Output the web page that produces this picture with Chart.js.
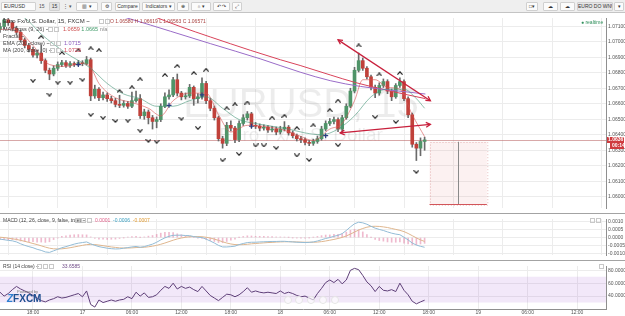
<!DOCTYPE html>
<html>
<head>
<meta charset="utf-8">
<title>EURUSD, 15</title>
<script src="https://cdn.jsdelivr.net/npm/chart.js@4.4.1/dist/chart.umd.min.js"></script>
<style>
  html, body { margin: 0; padding: 0; background: #fff; }
  body { position: relative; width: 625px; height: 316px; overflow: hidden; font-family: Arial, "Liberation Sans", sans-serif; color: #333; }
  canvas { position: absolute; left: 0; }
  .abs { position: absolute; white-space: nowrap; }
  #toolbar { left: 0; top: 0; width: 625px; height: 12px; background: #efefef; border-bottom: 1px solid #c4c4c4; }
  .btn { position: absolute; top: 2px; height: 9px; box-sizing: border-box; border: 1px solid #d0d0d0; border-radius: 1px; background: #fbfbfb; font-size: 5px; line-height: 7px; text-align: center; color: #333; white-space: nowrap; overflow: hidden; }
  .ico { position: absolute; top: 3px; font-size: 5px; line-height: 6px; color: #555; }
  .sep { position: absolute; left: 0; width: 625px; height: 1px; background: #a3a3a3; }
  .lg { position: absolute; left: 3px; font-size: 5.5px; line-height: 6px; color: #444; white-space: nowrap; }
  .sq { display: inline-block; width: 3px; height: 3px; border: 1px solid #c8c8c8; margin-right: 1px; vertical-align: middle; }
  .nav { position: absolute; top: 296px; width: 8px; height: 8px; border-radius: 50%; border: 1px solid #e4e4e4; box-sizing: border-box; background: rgba(255,255,255,0.6); }
</style>
</head>
<body>

<div id="toolbar" class="abs">
  <div class="btn" style="left:1px;width:35px;text-align:left;padding-left:2px;">EURUSD</div>
  <div class="ico" style="left:39px;">15</div>
  <div class="btn" style="left:49px;width:11px;background:#e3e3e3;">15</div>
  <div class="ico" style="left:63px;">⋮ ▾</div>
  <div class="btn" style="left:76px;width:22px;">▥ ▾</div>
  <div class="btn" style="left:101px;width:11px;">⚙</div>
  <div class="btn" style="left:115px;width:25px;">Compare</div>
  <div class="btn" style="left:142px;width:33px;">Indicators ▾</div>
  <div class="btn" style="left:177px;width:12px;">⊕</div>
  <div class="btn" style="left:191px;width:20px;">☼ ▾</div>
  <div class="btn" style="left:213px;width:17px;">↶ ↷</div>
  <div class="btn" style="left:232px;width:10px;">⤢</div>
  <div class="btn" style="left:526px;width:12px;">□▾</div>
  <div class="btn" style="left:543px;width:15px;">☁</div>
  <div class="btn" style="left:560px;width:15px;">☁</div>
  <div class="btn" style="left:577px;width:36px;background:#e6e6e6;">EURO DO WNWR</div>
  <div class="btn" style="left:614px;width:10px;">▾</div>
</div>

<canvas id="mainChart" width="625" height="200" style="top:13px;"></canvas>
<canvas id="macdChart" width="625" height="46" style="top:214px;"></canvas>
<canvas id="rsiChart" width="625" height="55" style="top:261px;"></canvas>

<div class="sep" style="top:213px;"></div>
<div class="sep" style="top:260px;"></div>

<!-- legends -->
<div class="lg" style="top:18px;font-size:6px;color:#333;">Euro Fx/U.S. Dollar, 15, FXCM ~</div>
<div class="lg" style="top:18px;left:99px;"><span class="sq"></span><span class="sq"></span></div>
<div class="lg" style="top:18px;left:110px;font-size:5px;color:#a8413f;">O 1.06580 H 1.06619 L 1.06563 C 1.06571</div>
<div class="lg" style="top:26px;">MA Cross (9, 26) ~ </div>
<div class="lg" style="top:26px;left:48px;"><span class="sq"></span><span class="sq"></span></div>
<div class="lg" style="top:26px;left:63px;"><span style="color:#cc4b4b">1.0659</span> <span style="color:#3f9a68">1.0665</span> <span style="color:#888">n/a</span></div>
<div class="lg" style="top:33px;">Fractal ~</div>
<div class="lg" style="top:40px;">EMA (200, close) ~</div>
<div class="lg" style="top:40px;left:50px;"><span class="sq"></span><span class="sq"></span></div>
<div class="lg" style="top:40px;left:64px;color:#8d5cbf;">1.0715</div>
<div class="lg" style="top:47px;">MA (200, close, 0) ~</div>
<div class="lg" style="top:47px;left:50px;"><span class="sq"></span><span class="sq"></span></div>
<div class="lg" style="top:47px;left:64px;color:#cf3f52;">1.0723</div>
<div class="lg" style="top:19px;left:581px;font-size:5px;color:#2f8f5b;">● realtime</div>

<div class="lg" style="top:217px;font-size:5px;">MACD (12, 26, close, 9, false, true) ~</div>
<div class="lg" style="top:217px;left:75px;"><span class="sq"></span><span class="sq"></span><span class="sq"></span></div>
<div class="lg" style="top:217px;left:95px;font-size:5px;"><span style="color:#e0608a">0.0001</span>&nbsp; <span style="color:#3a9fc0">-0.0006</span>&nbsp; <span style="color:#e09a30">-0.0007</span></div>
<div class="lg" style="top:217px;left:590px;"><span class="sq"></span><span class="sq"></span></div>

<div class="lg" style="top:263px;font-size:5px;">RSI (14 close) ~</div>
<div class="lg" style="top:263px;left:37px;"><span class="sq"></span><span class="sq"></span><span class="sq"></span></div>
<div class="lg" style="top:263px;left:62px;font-size:5px;color:#6e4a86;">33.6585</div>
<div class="lg" style="top:263px;left:599px;"><span class="sq"></span></div>

<div class="abs" style="left:17px;top:289px;font-size:4px;color:#777;">Powered by</div>
<div class="abs" style="left:7px;top:294px;font-size:10px;line-height:10px;font-weight:bold;color:#1d4e8f;"><i style="color:#2f7fd0">Z</i>FXCM</div>

<div class="nav" style="left:284px;"></div>
<div class="nav" style="left:295px;"></div>
<div class="nav" style="left:307px;"></div>
<div class="nav" style="left:319px;"></div>
<div class="nav" style="left:331px;"></div>

<script>
// 30-minute candles, 16 Mar 14:00 -> 18 Mar 17:30 (bar index 0..103)
const firstOpen = 1.07080;
const closes = [1.07098,1.07141,1.07123,1.07086,1.07061,1.07012,1.06976,1.06951,1.06914,1.06927,
  1.06878,1.06816,1.06792,1.06829,1.06853,1.06865,1.06847,1.06859,1.06853,1.06865,
  1.06859,1.06884,1.06651,1.06694,1.06639,1.06657,1.06633,1.06620,1.06596,1.06590,
  1.06602,1.06584,1.06620,1.06633,1.06523,1.06547,1.06510,1.06486,1.06498,1.06584,
  1.06645,1.06657,1.06755,1.06669,1.06645,1.06651,1.06706,1.06633,1.06645,1.06731,
  1.06620,1.06571,1.06510,1.06375,1.06345,1.06461,1.06443,1.06369,1.06473,1.06510,
  1.06535,1.06461,1.06455,1.06443,1.06449,1.06431,1.06437,1.06418,1.06437,1.06449,
  1.06412,1.06394,1.06375,1.06369,1.06351,1.06345,1.06357,1.06375,1.06437,1.06473,
  1.06486,1.06498,1.06437,1.06510,1.06584,1.06682,1.06816,1.06878,1.06829,1.06774,
  1.06706,1.06669,1.06718,1.06743,1.06682,1.06645,1.06718,1.06743,1.06633,1.06529,
  1.06339,1.06314,1.06357,1.06367];
const highs = [1.07120,1.07153,1.07150,1.07135,1.07100,1.07075,1.07025,1.06990,1.06965,1.06945,
  1.06980,1.06890,1.06830,1.06845,1.06870,1.06880,1.06878,1.06872,1.06870,1.06880,
  1.06878,1.06905,1.06895,1.06720,1.06705,1.06675,1.06670,1.06648,1.06635,1.06655,
  1.06620,1.06615,1.06675,1.06682,1.06660,1.06565,1.06560,1.06525,1.06515,1.06600,
  1.06670,1.06690,1.06770,1.06792,1.06680,1.06670,1.06725,1.06715,1.06665,1.06767,
  1.06745,1.06635,1.06585,1.06520,1.06390,1.06480,1.06490,1.06455,1.06490,1.06530,
  1.06550,1.06545,1.06480,1.06470,1.06465,1.06460,1.06455,1.06450,1.06455,1.06485,
  1.06460,1.06425,1.06405,1.06390,1.06380,1.06365,1.06372,1.06392,1.06455,1.06490,
  1.06505,1.06515,1.06510,1.06525,1.06600,1.06700,1.06835,1.06927,1.06895,1.06840,
  1.06785,1.06720,1.06735,1.06760,1.06755,1.06695,1.06730,1.06767,1.06755,1.06645,
  1.06540,1.06350,1.06380,1.06385];
const lows = [1.07060,1.07085,1.07105,1.07070,1.07045,1.07000,1.06960,1.06935,1.06900,1.06895,
  1.06860,1.06800,1.06755,1.06780,1.06815,1.06840,1.06835,1.06835,1.06840,1.06845,
  1.06845,1.06850,1.06620,1.06635,1.06620,1.06625,1.06615,1.06605,1.06580,1.06575,
  1.06578,1.06570,1.06575,1.06610,1.06505,1.06500,1.06470,1.06437,1.06445,1.06485,
  1.06575,1.06630,1.06645,1.06650,1.06625,1.06630,1.06640,1.06590,1.06605,1.06630,
  1.06600,1.06555,1.06495,1.06360,1.06314,1.06330,1.06425,1.06350,1.06355,1.06460,
  1.06495,1.06445,1.06440,1.06425,1.06430,1.06415,1.06418,1.06400,1.06405,1.06425,
  1.06398,1.06380,1.06360,1.06350,1.06335,1.06330,1.06332,1.06345,1.06365,1.06425,
  1.06460,1.06470,1.06420,1.06425,1.06500,1.06575,1.06670,1.06805,1.06815,1.06760,
  1.06690,1.06640,1.06655,1.06705,1.06665,1.06620,1.06635,1.06705,1.06620,1.06510,
  1.06320,1.06234,1.06265,1.06300];
const lastPrice = 1.06367;

// moving averages (bar index, price)
const ema200X = [24.3, 31.6, 41.3, 51.0, 63.1, 72.8, 80.1, 87.4, 94.7, 103.2];
const ema200Y = [1.07202, 1.07147, 1.07068, 1.06988, 1.06890, 1.06804, 1.06749, 1.06712, 1.06688, 1.06663];
const ma200X = [36.4, 43.7, 51.0, 60.7, 68.0, 72.8, 80.1, 86.2, 94.7, 103.2];
const ma200Y = [1.07172, 1.07098, 1.07031, 1.06945, 1.06884, 1.06847, 1.06786, 1.06737, 1.06682, 1.06633];
const fastX = [0,4,8,12,16,20,22,24,28,32,36,39,42,46,50,53,56,60,64,68,72,76,80,83,86,88,91,94,97,100,103];
const fastY = [1.07080,1.07074,1.06976,1.06853,1.06841,1.06859,1.06835,1.06731,1.06639,1.06608,
  1.06571,1.06522,1.06620,1.06669,1.06669,1.06529,1.06418,1.06461,1.06455,1.06437,
  1.06400,1.06363,1.06437,1.06473,1.06620,1.06755,1.06755,1.06706,1.06694,1.06529,1.06388];
const slowX = [0,6,10,16,22,26,30,34,38,42,46,50,54,58,62,66,70,74,78,82,86,90,94,98,101,103];
const slowY = [1.07202,1.07153,1.07049,1.06927,1.06829,1.06731,1.06663,1.06633,1.06584,1.06584,
  1.06620,1.06645,1.06571,1.06498,1.06473,1.06455,1.06437,1.06412,1.06400,1.06437,
  1.06522,1.06645,1.06694,1.06694,1.06633,1.06571];

// fractals and MA-cross marks
const upFracX = [10,15,19,22,24,29,32,34,40,43,47,50,55,57,60,66,69,72,76,80,82,87,92,97];
const upFracY = [1.07031,1.06927,1.06945,1.06957,1.06945,1.06682,1.06706,1.06758,1.06786,1.06844,1.06798,1.06819,
  1.06571,1.06596,1.06608,1.06510,1.06522,1.06443,1.06461,1.06559,1.06620,1.06976,1.06789,1.06798];
const downFracX = [8,12,14,17,20,22,25,28,31,34,36,38,44,48,54,58,62,64,67,72,75,82,91,96,101];
const downFracY = [1.06749,1.06659,1.06737,1.06737,1.06755,1.06529,1.06510,1.06489,1.06492,1.06427,1.06361,1.06355,
  1.06504,1.06443,1.06236,1.06276,1.06331,1.06331,1.06316,1.06267,1.06238,1.06333,1.06514,1.06483,1.06161];
const crossX = [19, 41, 49, 61, 79];
const crossY = [1.06853, 1.06590, 1.06657, 1.06455, 1.06394];

// drawn trend lines and the measure box
const trendAX = [82.0, 104.4];
const trendAY = [1.07012, 1.06620];
const trendBX = [82.5, 104.4];
const trendBY = [1.06412, 1.06467];
const boxX = [104.2, 111.0, 118.1];
const boxY = [1.06355, 1.05951];

// indicators per bar
const rsi = [46,40,44,50,55,51,48,45,41,37,
  33,31,34,36,39,37,38,40,42,44,
  39,48,27,23,34,30,32,34,32,34,
  35,39,36,46,40,45,38,39,42,49,
  55,52,60,51,55,52,54,50,47,55,
  48,41,37,33,38,43,42,39,42,47,
  53,46,48,46,45,46,45,44,48,44,
  46,44,41,39,40,37,34,44,52,61,
  65,61,66,59,65,80,83,81,72,62,
  56,47,55,49,48,50,47,60,49,42,
  32,28,31,33.66];
const macd = [-0.00010,-0.00014,-0.00018,-0.00021,-0.00028,-0.00040,-0.00050,-0.00058,-0.00065,-0.00075,
  -0.00082,-0.00092,-0.00095,-0.00085,-0.00075,-0.00065,-0.00058,-0.00050,-0.00042,-0.00036,
  -0.00032,-0.00028,-0.00040,-0.00050,-0.00058,-0.00063,-0.00068,-0.00071,-0.00073,-0.00072,
  -0.00068,-0.00064,-0.00060,-0.00057,-0.00062,-0.00058,-0.00050,-0.00042,-0.00030,-0.00015,
  -0.00002,0.00008,0.00014,0.00015,0.00015,0.00013,0.00012,0.00006,0.00002,0.00000,
  -0.00010,-0.00022,-0.00035,-0.00050,-0.00060,-0.00060,-0.00058,-0.00055,-0.00045,-0.00038,
  -0.00032,-0.00030,-0.00030,-0.00028,-0.00027,-0.00026,-0.00025,-0.00025,-0.00024,-0.00024,
  -0.00026,-0.00028,-0.00030,-0.00031,-0.00032,-0.00031,-0.00028,-0.00022,-0.00014,-0.00006,
  0.00000,0.00008,0.00014,0.00025,0.00045,0.00068,0.00088,0.00098,0.00094,0.00085,
  0.00072,0.00060,0.00052,0.00045,0.00036,0.00028,0.00022,0.00018,0.00002,-0.00015,
  -0.00035,-0.00048,-0.00056,-0.00062];
const signal = [0.00002,0.00000,-0.00004,-0.00008,-0.00012,-0.00018,-0.00024,-0.00031,-0.00038,-0.00045,
  -0.00053,-0.00061,-0.00068,-0.00072,-0.00073,-0.00072,-0.00069,-0.00065,-0.00060,-0.00055,
  -0.00050,-0.00045,-0.00044,-0.00045,-0.00048,-0.00052,-0.00056,-0.00060,-0.00063,-0.00066,
  -0.00067,-0.00067,-0.00066,-0.00064,-0.00063,-0.00062,-0.00059,-0.00055,-0.00050,-0.00043,
  -0.00035,-0.00026,-0.00017,-0.00009,-0.00003,0.00002,0.00005,0.00006,0.00006,0.00005,
  0.00002,-0.00003,-0.00010,-0.00018,-0.00027,-0.00035,-0.00041,-0.00045,-0.00046,-0.00045,
  -0.00043,-0.00040,-0.00038,-0.00036,-0.00034,-0.00032,-0.00031,-0.00029,-0.00028,-0.00027,
  -0.00027,-0.00027,-0.00028,-0.00029,-0.00030,-0.00030,-0.00030,-0.00029,-0.00026,-0.00022,
  -0.00017,-0.00012,-0.00006,0.00001,0.00010,0.00022,0.00035,0.00048,0.00058,0.00066,
  0.00071,0.00072,0.00071,0.00068,0.00064,0.00058,0.00052,0.00046,0.00038,0.00026,
  0.00012,-0.00002,-0.00015,-0.00025];

// axes
const timeTickIdx = [8,20,32,44,56,68,80,92,104,116,128,140];
const timeLabels = ['18:00','17','06:00','12:00','18:00','18','06:00','12:00','18:00','19','06:00','12:00'];
const priceTicks = [1.060,1.061,1.062,1.063,1.064,1.065,1.066,1.067,1.068,1.069,1.070,1.071];
const macdTicks = [-0.001,-0.0005,0,0.0005,0.001];
const rsiTicks = [40,60,80];
const rsiBand = [30, 70];

Chart.defaults.font.family = 'Arial, "Liberation Sans", sans-serif';

const opens = [firstOpen].concat(closes.slice(0, -1));
const bars = closes.map((_, i) => i);
const pts = (xs, ys) => xs.map((x, i) => ({ x: x, y: ys[i] }));

// little chevrons for the fractal marks
function chevron(up) {
    const c = document.createElement('canvas');
    c.width = 6; c.height = 4;
    const g = c.getContext('2d');
    g.strokeStyle = '#1e1e1e';
    g.lineWidth = 1.2;
    g.beginPath();
    if (up) { g.moveTo(0.4, 3.6); g.lineTo(3, 0.8); g.lineTo(5.6, 3.6); }
    else { g.moveTo(0.4, 0.4); g.lineTo(3, 3.2); g.lineTo(5.6, 0.4); }
    g.stroke();
    return c;
}

const baseOptions = (yScale, showTime) => ({
    responsive: false,
    animation: false,
    events: [],
    layout: { padding: 0, autoPadding: false },
    plugins: { legend: { display: false }, tooltip: { enabled: false } },
    scales: {
        x: {
            type: 'linear', min: 0, max: 147, offset: false,
            grid: { color: '#ececec', drawTicks: false },
            border: { display: showTime, color: '#8f8f8f' },
            ticks: { display: showTime, autoSkip: false, maxRotation: 0, padding: 1, font: { size: 5 }, color: '#555',
                callback: (v, i) => timeLabels[i] },
            afterBuildTicks: s => { s.ticks = timeTickIdx.map(v => ({ value: v })); },
            afterFit: s => { s.height = showTime ? 7 : 0; }
        },
        y: Object.assign({
            position: 'right',
            grid: { color: '#ececec', drawTicks: false },
            border: { display: true, color: '#8f8f8f' },
            afterFit: s => { s.width = 19; }
        }, yScale)
    }
});

function arrowHead(ctx, from, to) {
    const ang = Math.atan2(to.y - from.y, to.x - from.x);
    const len = 5;
    ctx.beginPath();
    ctx.moveTo(to.x - len * Math.cos(ang - 0.5), to.y - len * Math.sin(ang - 0.5));
    ctx.lineTo(to.x, to.y);
    ctx.lineTo(to.x - len * Math.cos(ang + 0.5), to.y - len * Math.sin(ang + 0.5));
    ctx.stroke();
}

const mainOverlay = {
    id: 'mainOverlay',
    beforeDatasetsDraw(chart) {
        const { ctx, chartArea: a, scales: { x, y } } = chart;
        ctx.save();
        // symbol watermark
        ctx.fillStyle = 'rgba(0,0,0,0.075)';
        ctx.textAlign = 'center';
        ctx.textBaseline = 'middle';
        ctx.font = '40px Arial, "Liberation Sans"';
        ctx.fillText('EURUSD, 15', 301, 93);
        ctx.font = '19px Arial, "Liberation Sans"';
        ctx.fillText('Euro Fx/U.S. Dollar', 301, 123);

        // measure box
        const x0 = x.getPixelForValue(boxX[0]), xm = Math.round(x.getPixelForValue(boxX[1])) + 0.5, x1 = x.getPixelForValue(boxX[2]);
        const y0 = y.getPixelForValue(boxY[0]), y1 = Math.round(y.getPixelForValue(boxY[1])) + 0.5;
        ctx.fillStyle = 'rgba(235,160,160,0.15)';
        ctx.fillRect(x0, y0, x1 - x0, y1 - y0);
        ctx.lineWidth = 1;
        ctx.setLineDash([1, 2]);
        ctx.strokeStyle = 'rgba(210,130,130,0.55)';
        ctx.strokeRect(Math.round(x0) + 0.5, Math.round(y0) + 0.5, x1 - x0, y1 - y0);
        ctx.setLineDash([]);
        ctx.strokeStyle = '#8a8a8a';
        ctx.beginPath(); ctx.moveTo(xm, y0); ctx.lineTo(xm, y1); ctx.stroke();
        ctx.strokeStyle = '#d2555a';
        ctx.beginPath(); ctx.moveTo(x0, y1); ctx.lineTo(x1, y1); ctx.stroke();

        // last price line
        const py = Math.round(y.getPixelForValue(lastPrice)) + 0.5;
        ctx.strokeStyle = 'rgba(190,110,110,0.6)';
        ctx.beginPath(); ctx.moveTo(a.left, py); ctx.lineTo(a.right, py); ctx.stroke();
        ctx.restore();
    },
    afterDatasetsDraw(chart) {
        const { ctx, scales: { x, y } } = chart;
        ctx.save();
        ctx.strokeStyle = '#c8203c';
        ctx.lineWidth = 1.3;
        [[trendAX, trendAY], [trendBX, trendBY]].forEach(([tx, ty]) => {
            const p1 = { x: x.getPixelForValue(tx[0]), y: y.getPixelForValue(ty[0]) };
            const p2 = { x: x.getPixelForValue(tx[1]), y: y.getPixelForValue(ty[1]) };
            arrowHead(ctx, p1, p2);
            arrowHead(ctx, p2, p1);
        });
        ctx.restore();
    },
    afterDraw(chart) {
        const { ctx, chartArea: a, scales: { y } } = chart;
        const py = Math.round(y.getPixelForValue(lastPrice));
        ctx.save();
        ctx.fillStyle = '#cf3b3f';
        ctx.fillRect(a.right + 1, py - 3, 17, 6);
        ctx.fillRect(a.right + 4, py + 3, 14, 6);
        ctx.fillStyle = '#fff';
        ctx.font = 'bold 5px Arial, "Liberation Sans"';
        ctx.textBaseline = 'middle';
        ctx.fillText(lastPrice.toFixed(5), a.right + 2, py);
        ctx.fillText('00:14', a.right + 6, py + 6);
        ctx.restore();
    }
};

// price panel
new Chart(document.getElementById('mainChart'), {
    type: 'bar',
    data: {
        datasets: [
            { type: 'line', data: pts(ema200X, ema200Y), borderColor: '#9a6cc8', borderWidth: 1, pointRadius: 0, cubicInterpolationMode: 'monotone', order: 4 },
            { type: 'line', data: pts(ma200X, ma200Y), borderColor: '#d9435a', borderWidth: 1, pointRadius: 0, cubicInterpolationMode: 'monotone', order: 4 },
            { type: 'line', data: pts(slowX, slowY), borderColor: 'rgba(70,150,120,0.75)', borderWidth: 0.8, pointRadius: 0, cubicInterpolationMode: 'monotone', order: 3 },
            { type: 'line', data: pts(fastX, fastY), borderColor: 'rgba(215,80,80,0.75)', borderWidth: 0.8, pointRadius: 0, cubicInterpolationMode: 'monotone', order: 3 },
            { data: bars.map(i => ({ x: i, y: [lows[i], highs[i]] })), backgroundColor: '#6a6a6a', barThickness: 1, grouped: false, order: 6 },
            { data: bars.map(i => ({ x: i, y: [opens[i], closes[i]] })), grouped: false, barThickness: 3, order: 5,
              backgroundColor: bars.map(i => closes[i] >= opens[i] ? '#4f9468' : '#c0413a') },
            { type: 'line', data: pts(upFracX, upFracY), showLine: false, pointStyle: chevron(true), pointRadius: 3, order: 1 },
            { type: 'line', data: pts(downFracX, downFracY), showLine: false, pointStyle: chevron(false), pointRadius: 3, order: 1 },
            { type: 'line', data: pts(crossX, crossY), showLine: false, pointStyle: 'cross', pointRadius: 2.5, borderColor: '#2c3d80', borderWidth: 1.2, order: 1 },
            { type: 'line', data: pts(trendAX, trendAY), borderColor: '#c8203c', borderWidth: 1.3, pointRadius: 0, order: 0 },
            { type: 'line', data: pts(trendBX, trendBY), borderColor: '#c8203c', borderWidth: 1.3, pointRadius: 0, order: 0 }
        ]
    },
    options: baseOptions({
        min: 1.05928, max: 1.07153,
        ticks: { font: { size: 5 }, color: '#555', padding: 2, callback: v => v.toFixed(5) },
        afterBuildTicks: s => { s.ticks = priceTicks.map(v => ({ value: v })); }
    }, false),
    plugins: [mainOverlay]
});

// MACD panel
new Chart(document.getElementById('macdChart'), {
    type: 'bar',
    data: {
        datasets: [
            { type: 'line', data: pts(bars, macd), borderColor: '#93bcd6', borderWidth: 1, pointRadius: 0, order: 1 },
            { type: 'line', data: pts(bars, signal), borderColor: '#dfb68e', borderWidth: 1, pointRadius: 0, order: 1 },
            { data: bars.map(i => ({ x: i, y: macd[i] - signal[i] })), backgroundColor: 'rgba(225,130,165,0.55)', barThickness: 1, order: 2 }
        ]
    },
    options: baseOptions({
        min: -0.001115, max: 0.001185,
        ticks: { font: { size: 5 }, color: '#555', padding: 2, callback: v => v.toFixed(4) },
        afterBuildTicks: s => { s.ticks = macdTicks.map(v => ({ value: v })); }
    }, false)
});

// RSI panel
const rsiBandPlugin = {
    id: 'rsiBand',
    beforeDatasetsDraw(chart) {
        const { ctx, chartArea: a, scales: { y } } = chart;
        const yt = y.getPixelForValue(rsiBand[1]), yb = y.getPixelForValue(rsiBand[0]);
        ctx.save();
        ctx.fillStyle = 'rgba(165,95,215,0.14)';
        ctx.fillRect(a.left, yt, a.right - a.left, yb - yt);
        ctx.restore();
    }
};

new Chart(document.getElementById('rsiChart'), {
    type: 'line',
    data: {
        datasets: [
            { data: pts(bars, rsi), borderColor: '#5e3f78', borderWidth: 1, pointRadius: 0 }
        ]
    },
    options: baseOptions({
        min: 20, max: 86.67,
        ticks: { font: { size: 5 }, color: '#555', padding: 2, callback: v => v.toFixed(4) },
        afterBuildTicks: s => { s.ticks = rsiTicks.map(v => ({ value: v })); }
    }, true),
    plugins: [rsiBandPlugin]
});
</script>
</body>
</html>
